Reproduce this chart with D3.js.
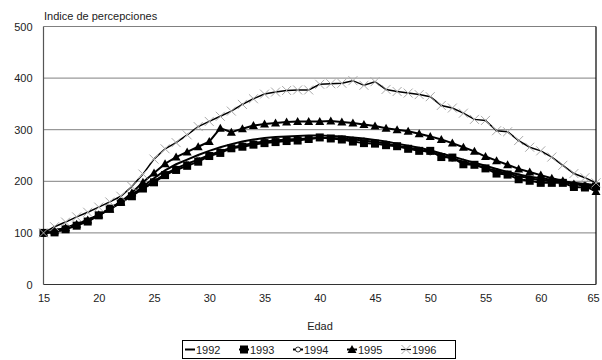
<!DOCTYPE html>
<meta charset="utf-8">
<script src="https://d3js.org/d3.v7.min.js"></script>
<style>
    body { margin: 0; background: #fff; }
    text { font-family: "Liberation Sans", Arial, sans-serif; font-size: 11px; fill: #222; }
</style>
<body>
<svg width="602" height="360"></svg>
<script>
    var ages  = d3.range(15, 66);
    var years = ['1992', '1993', '1994', '1995', '1996'];
    var yTicks = [0, 100, 200, 300, 400, 500];
    var xTicks = [15, 20, 25, 30, 35, 40, 45, 50, 55, 60, 65];

    var v1992 = [100,104,110,117,125,135,147,160,174,190,206,221,233,242,251,259,266,272,277,281,284,286,287,288,289,289,288,287,285,283,280,277,273,269,265,260,254,248,242,236,230,224,218,213,209,206,203,200,197,195,193];
    var v1993 = [100,101,107,114,122,134,147,160,171,186,198,212,222,230,238,249,255,264,267,271,274,276,278,279,282,285,283,281,277,274,273,270,268,263,259,259,247,246,233,232,225,215,213,204,201,197,197,197,189,188,190];
    var v1994 = [100,103,109,116,124,134,146,158,172,187,200,214,225,234,242,251,258,265,270,274,277,279,281,282,283,284,284,283,281,279,276,273,269,265,261,256,250,244,238,232,226,220,215,210,206,202,200,198,195,193,191];
    var v1995 = [100,104,110,117,125,135,146,160,178,198,216,234,247,257,267,277,303,295,302,308,311,313,315,316,316,316,317,315,313,310,307,303,300,297,292,287,281,274,266,258,248,240,232,224,218,212,206,201,195,191,180];
    var v1996 = [100,112,121,131,140,150,160,171,190,214,243,263,275,290,306,316,326,336,349,360,369,373,376,377,377,388,389,390,395,386,393,378,374,371,368,364,347,342,332,320,318,298,296,279,266,259,247,231,215,207,197];

    var series = [v1992, v1993, v1994, v1995, v1996];
    var markers = ['none', 'square', 'circle', 'triangle', 'cross'];
    var drawOrder = [2, 0, 1, 3, 4];

    var svg = d3.select('svg');
    var x = d3.scaleLinear().domain([15, 65]).range([43.5, 596]);
    var y = d3.scaleLinear().domain([0, 500]).range([284.5, 26.5]);

    // gridlines
    svg.append('g').selectAll('line').data(yTicks.slice(1)).enter().append('line')
        .attr('x1', x(15)).attr('x2', x(65))
        .attr('y1', function(d){ return y(d); }).attr('y2', function(d){ return y(d); })
        .attr('stroke', '#808080').attr('stroke-width', 1);

    // frame
    svg.append('line').attr('x1', x(15)).attr('x2', x(15)).attr('y1', y(500)).attr('y2', y(0))
        .attr('stroke', '#555').attr('stroke-width', 1.2);
    svg.append('line').attr('x1', x(65)).attr('x2', x(65)).attr('y1', y(500)).attr('y2', y(0))
        .attr('stroke', '#000').attr('stroke-width', 1.2);
    svg.append('line').attr('x1', x(15)).attr('x2', x(65)).attr('y1', y(0)).attr('y2', y(0))
        .attr('stroke', '#333').attr('stroke-width', 1.2);

    var yAxis = svg.append('g').attr('transform', 'translate(' + x(15) + ',0)')
        .call(d3.axisLeft(y).tickValues(yTicks).tickSize(0).tickPadding(11));
    var xAxis = svg.append('g').attr('transform', 'translate(0,' + y(0) + ')')
        .call(d3.axisBottom(x).tickValues(xTicks).tickSize(0).tickPadding(10));
    yAxis.select('.domain').remove();
    xAxis.select('.domain').remove();
    svg.selectAll('.tick text').attr('font-family', null).attr('font-size', null).attr('fill', null);
    xAxis.selectAll('.tick text').filter(function(d){ return d === 65; }).attr('dx', -3);

    svg.append('text').attr('x', 44).attr('y', 20).text('Indice de percepciones');
    svg.append('text').attr('x', 320).attr('y', 330).attr('text-anchor', 'middle').text('Edad');

    var line = d3.line()
        .x(function(d, i){ return x(ages[i]); })
        .y(function(d){ return y(d); });

    function drawMarker(g, type, cx, cy) {
        if (type === 'square') {
            g.append('rect').attr('x', cx - 4).attr('y', cy - 4).attr('width', 8).attr('height', 8).attr('fill', '#000');
        } else if (type === 'circle') {
            g.append('circle').attr('cx', cx).attr('cy', cy).attr('r', 2.5).attr('fill', '#fff').attr('stroke', '#000').attr('stroke-width', 0.8);
        } else if (type === 'triangle') {
            g.append('path').attr('d', 'M' + cx + ',' + (cy - 4.5) + 'L' + (cx + 4.5) + ',' + (cy + 3.5) + 'L' + (cx - 4.5) + ',' + (cy + 3.5) + 'Z').attr('fill', '#000');
        } else if (type === 'cross') {
            g.append('path').attr('d', 'M' + (cx - 4.5) + ',' + (cy - 4.5) + 'L' + (cx + 4.5) + ',' + (cy + 4.5) + 'M' + (cx + 4.5) + ',' + (cy - 4.5) + 'L' + (cx - 4.5) + ',' + (cy + 4.5))
                .attr('stroke', '#aaa').attr('stroke-width', 1).attr('fill', 'none');
        }
    }

    drawOrder.forEach(function(s){
        var vals = series[s];
        var g = svg.append('g');
        g.append('path').datum(vals)
            .attr('fill', 'none')
            .attr('stroke', '#000')
            .attr('stroke-width', s === 4 ? 1.5 : 2)
            .attr('d', line);
        vals.forEach(function(v, i){ drawMarker(g, markers[s], x(ages[i]), y(v)); });
    });

    // legend
    var lg = svg.append('g');
    lg.append('rect').attr('x', 182.5).attr('y', 340.5).attr('width', 273).attr('height', 18)
        .attr('fill', '#fff').attr('stroke', '#000').attr('stroke-width', 1);
    years.forEach(function(name, i){
        var x0 = 185 + i * 54;
        lg.append('line').attr('x1', x0).attr('x2', x0 + 10).attr('y1', 349.5).attr('y2', 349.5)
            .attr('stroke', '#000').attr('stroke-width', i === 4 ? 1.2 : 2);
        drawMarker(lg, markers[i], x0 + 5, 349.5);
        lg.append('text').attr('x', x0 + 11).attr('y', 353.5).text(name);
    });
</script>
</body>
